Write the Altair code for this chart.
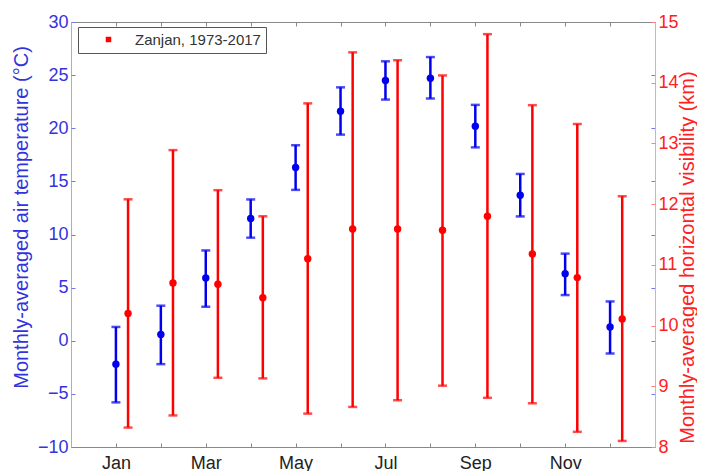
import json
import altair as alt
import pandas as pd

months = ["Jan", "Feb", "Mar", "Apr", "May", "Jun", "Jul", "Aug", "Sep", "Oct", "Nov", "Dec"]
month_num = list(range(1, 13))

temp_mean = [-2.2, 0.6, 5.9, 11.5, 16.3, 21.6, 24.5, 24.7, 20.2, 13.7, 6.3, 1.3]
temp_low = [-5.8, -2.2, 3.2, 9.7, 14.2, 19.4, 22.7, 22.8, 18.2, 11.7, 4.3, -1.2]
temp_high = [1.3, 3.3, 8.5, 13.3, 18.4, 23.85, 26.3, 26.7, 22.2, 15.7, 8.2, 3.7]

vis_mean = [10.2, 10.70, 10.68, 10.46, 11.1, 11.59, 11.59, 11.57, 11.8, 11.18, 10.79, 10.11]
vis_low = [8.32, 8.52, 9.14, 9.13, 8.55, 8.66, 8.77, 9.01, 8.81, 8.72, 8.25, 8.1]
vis_high = [12.08, 12.89, 12.23, 11.8, 13.66, 14.5, 14.37, 14.12, 14.8, 13.63, 13.32, 12.13]

temp_ticks = [-10, -5, 0, 5, 10, 15, 20, 25, 30]
vis_ticks = [8, 9, 10, 11, 12, 13, 14, 15]
legend_label = "Zanjan, 1973-2017"

df = pd.DataFrame({
    "m": month_num, "name": months,
    "T": temp_mean, "Tlo": temp_low, "Thi": temp_high,
    "V": vis_mean, "Vlo": vis_low, "Vhi": vis_high,
    "series": legend_label,
})

W, H = 584, 425
BLUE = "#0000ee"
RED = "#ff0000"
FONT = "Liberation Sans"
GRAY = "#888888"

xs = alt.Scale(domain=[0, 13], nice=False, zero=False)
ts = alt.Scale(domain=[-10, 30], nice=False, zero=False)
vs = alt.Scale(domain=[8, 15], nice=False, zero=False)

label_expr = "datum.value % 2 == 1 ? " + json.dumps(months) + "[datum.value - 1] : ''"

def hidden_axis(orient, offset, values, color, size=4):
    return alt.Axis(orient=orient, offset=offset, values=values, labels=False, domain=False,
                    ticks=True, tickSize=size, tickColor=color, tickWidth=1, grid=False, title=None)

base = alt.Chart(df).transform_calculate(xr="datum.m + 0.27")

# ---- temperature (blue) ----
t_rule = base.mark_rule(color=BLUE, strokeWidth=2.5).encode(
    x=alt.X("m:Q", scale=xs, axis=alt.Axis(orient="bottom", values=month_num, labelExpr=label_expr,
                                           ticks=False, grid=False, domainColor=GRAY, labelFont=FONT,
                                           labelFontSize=18, labelColor="#222222", labelPadding=7,
                                           title=None)),
    y=alt.Y("Tlo:Q", scale=ts, axis=alt.Axis(orient="left", values=temp_ticks, ticks=False, grid=False,
                                             domainColor="#a8a8f0", labelFont=FONT, labelFontSize=18,
                                             labelColor="#3333dd", labelPadding=3,
                                             title="Monthly-averaged air temperature (°C)",
                                             titleFont=FONT, titleFontSize=20, titleFontWeight="normal",
                                             titleColor="#3333dd", titleAngle=270, titleBaseline="middle",
                                             titleAlign="center", titleX=-50, titleY=195)),
    y2="Thi:Q",
)
t_lo = base.mark_tick(color=BLUE, orient="horizontal", size=9, thickness=2.5).encode(
    x=alt.X("m:Q", scale=xs, axis=hidden_axis("top", -H, month_num, GRAY)),
    y=alt.Y("Tlo:Q", scale=ts, axis=hidden_axis("right", -W, temp_ticks, "#7777ee")),
)
t_hi = base.mark_tick(color=BLUE, orient="horizontal", size=9, thickness=2.5).encode(
    x=alt.X("m:Q", scale=xs, axis=hidden_axis("bottom", -H, month_num, GRAY)),
    y=alt.Y("Thi:Q", scale=ts, axis=hidden_axis("left", -W, temp_ticks, "#7777ee")),
)
t_pt = base.mark_circle(color=BLUE, size=55, opacity=1).encode(
    x=alt.X("m:Q", scale=xs, axis=alt.Axis(orient="top", values=month_num, labels=False, ticks=False,
                                           grid=False, domainColor=GRAY, title=None)),
    y=alt.Y("T:Q", scale=ts, axis=None),
)

# ---- visibility (red) ----
v_rule = base.mark_rule(color=RED, strokeWidth=2.5).encode(
    x=alt.X("xr:Q", scale=xs, axis=None),
    y=alt.Y("Vlo:Q", scale=vs, axis=alt.Axis(orient="right", values=vis_ticks, ticks=False, grid=False,
                                             domainColor="#ffa0a0", labelFont=FONT, labelFontSize=18,
                                             labelColor="#ff2020", labelPadding=3,
                                             title="Monthly-averaged horizontal visibility (km)",
                                             titleFont=FONT, titleFontSize=20, titleFontWeight="normal",
                                             titleColor="#ff2020", titleAngle=270, titleBaseline="middle",
                                             titleAlign="center", titleX=32, titleY=235)),
    y2="Vhi:Q",
)
v_lo = base.mark_tick(color=RED, orient="horizontal", size=9, thickness=2.5).encode(
    x=alt.X("xr:Q", scale=xs, axis=None),
    y=alt.Y("Vlo:Q", scale=vs, axis=hidden_axis("left", -W, vis_ticks, "#ff8080")),
)
v_hi = base.mark_tick(color=RED, orient="horizontal", size=9, thickness=2.5).encode(
    x=alt.X("xr:Q", scale=xs, axis=None),
    y=alt.Y("Vhi:Q", scale=vs, axis=None),
)
v_pt = base.mark_circle(size=55, opacity=1).encode(
    x=alt.X("xr:Q", scale=xs, axis=None),
    y=alt.Y("V:Q", scale=vs, axis=None),
    color=alt.Color("series:N", scale=alt.Scale(domain=[legend_label], range=[RED]),
                    legend=alt.Legend(title=None, orient="none", legendX=7, legendY=5,
                                      strokeColor="#555555", fillColor="white", padding=5,
                                      symbolType="square", symbolSize=30, symbolOffset=18,
                                      symbolStrokeWidth=0, labelFont=FONT, labelFontSize=15,
                                      labelColor="#333333", labelOffset=19)),
)

chart = alt.layer(t_rule, t_lo, t_hi, t_pt, v_rule, v_lo, v_hi, v_pt).resolve_scale(
    y="independent"
).resolve_axis(
    x="independent", y="independent"
).properties(
    width=W, height=H,
    autosize=alt.AutoSizeParams(type="none"),
    padding={"left": 63, "top": 14, "right": 42, "bottom": 26},
).configure_view(stroke=None)

chart.save("out.html", embed_options={"renderer": "svg", "actions": False})
